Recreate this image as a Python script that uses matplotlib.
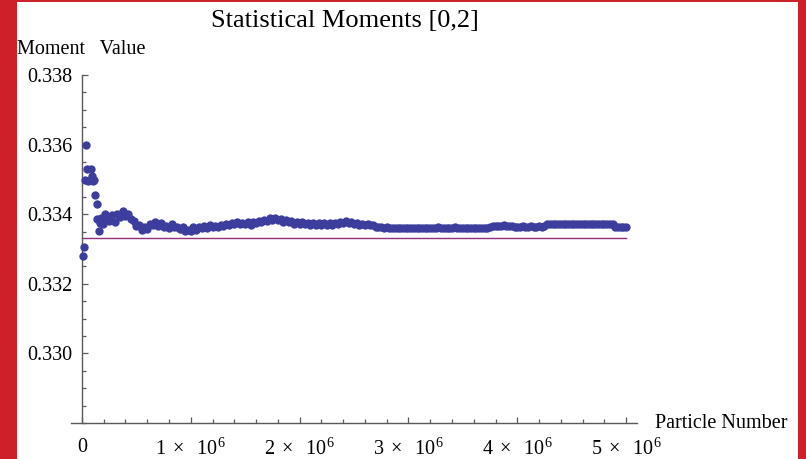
import numpy as np
import matplotlib
matplotlib.use("Agg")
import matplotlib.pyplot as plt
from matplotlib.patches import Rectangle
from matplotlib.ticker import FixedLocator, MultipleLocator

plt.rcParams['font.family'] = ['Liberation Serif', 'DejaVu Serif']
plt.rcParams['mathtext.fontset'] = 'custom'
plt.rcParams['mathtext.rm'] = 'Liberation Serif'
plt.rcParams['mathtext.it'] = 'Liberation Serif:italic'

# first samples, read one by one (particle number, moment)
early_n = [10000, 20000, 30000, 40000, 50000, 58000, 70000, 85000, 92000, 100000,
           110000, 120000, 135000, 142000, 155000, 165000, 180000, 195000, 210000, 230000]
early_moment = [0.33280, 0.33306, 0.33497, 0.33600, 0.33531, 0.33494, 0.33498, 0.33531, 0.33511, 0.33494,
                0.33497, 0.33456, 0.33430, 0.33386, 0.33352, 0.33376, 0.33389, 0.33372, 0.33401, 0.33386]

# later samples, every 25000 particles from 250000 on
late_start = 250000
late_step = 25000
late_moment = [
    0.33380, 0.33398, 0.33378, 0.33400, 0.33392, 0.33408, 0.33396, 0.33400, 0.33385, 0.33380,
    0.33366, 0.33368, 0.33354, 0.33364, 0.33358, 0.33372, 0.33370, 0.33378, 0.33366, 0.33374,
    0.33364, 0.33366, 0.33360, 0.33372, 0.33362, 0.33364, 0.33358, 0.33362, 0.33352, 0.33356,
    0.33352, 0.33362, 0.33355, 0.33364, 0.33360, 0.33365, 0.33360, 0.33368, 0.33362, 0.33367,
    0.33364, 0.33370, 0.33366, 0.33373, 0.33369, 0.33375, 0.33371, 0.33378, 0.33372, 0.33376,
    0.33373, 0.33378, 0.33370, 0.33378, 0.33375, 0.33380, 0.33377, 0.33384, 0.33381, 0.33388,
    0.33384, 0.33389, 0.33382, 0.33386, 0.33379, 0.33383, 0.33378, 0.33381, 0.33372, 0.33377,
    0.33373, 0.33379, 0.33371, 0.33375, 0.33369, 0.33374, 0.33370, 0.33375, 0.33370, 0.33374,
    0.33368, 0.33375, 0.33370, 0.33376, 0.33372, 0.33378, 0.33374, 0.33381, 0.33376, 0.33378,
    0.33371, 0.33374, 0.33370, 0.33373, 0.33369, 0.33372, 0.33368, 0.33370, 0.33362, 0.33363,
    0.33362, 0.33361, 0.33362, 0.33361, 0.33360, 0.33361, 0.33360, 0.33360, 0.33361, 0.33360,
    0.33360, 0.33359, 0.33360, 0.33359, 0.33359, 0.33360, 0.33359, 0.33360, 0.33359, 0.33359,
    0.33360, 0.33363, 0.33360, 0.33359, 0.33359, 0.33360, 0.33360, 0.33363, 0.33360, 0.33359,
    0.33359, 0.33360, 0.33359, 0.33360, 0.33359, 0.33360, 0.33360, 0.33361, 0.33360, 0.33360,
    0.33363, 0.33365, 0.33366, 0.33365, 0.33366, 0.33368, 0.33367, 0.33365, 0.33365, 0.33364,
    0.33364, 0.33364, 0.33365, 0.33364, 0.33364, 0.33365, 0.33364, 0.33364, 0.33365, 0.33364,
    0.33365, 0.33371, 0.33372, 0.33372, 0.33373, 0.33372, 0.33372, 0.33372, 0.33373, 0.33372,
    0.33372, 0.33372, 0.33373, 0.33372, 0.33372, 0.33372, 0.33373, 0.33372, 0.33372, 0.33372,
    0.33372, 0.33373, 0.33372, 0.33372, 0.33372, 0.33371, 0.33364, 0.33362, 0.33362, 0.33362,
    0.33362,
]
late_n = late_start + late_step * np.arange(len(late_moment))

exact_moment = 0.33333          # expected value, drawn as a line
exact_span = [0, 5000000]

x_ticks = [0, 1e6, 2e6, 3e6, 4e6, 5e6]
x_labels = ['0', r'$1\ \times\ \ 10^{6}$', r'$2\ \times\ \ 10^{6}$', r'$3\ \times\ \ 10^{6}$',
            r'$4\ \times\ \ 10^{6}$', r'$5\ \times\ \ 10^{6}$']
y_ticks = [0.330, 0.332, 0.334, 0.336, 0.338]
y_labels = ['0.330', '0.332', '0.334', '0.336', '0.338']

W, H = 806, 459
fig = plt.figure(figsize=(W / 100, H / 100), dpi=100)
fig.patch.set_facecolor('#CE2029')
fig.patches.append(Rectangle((17 / W, 0), (798 - 17) / W, 457 / H, transform=fig.transFigure,
                             facecolor='white', edgecolor='none', zorder=-5))

ax = fig.add_axes([71 / W, (H - 423) / H, 566 / W, 348 / H])
ax.set_facecolor('white')
ax.set_xlim(-0.1e6, 5.1e6)
ax.set_ylim(0.328, 0.338)

ax.plot(exact_span, [exact_moment, exact_moment], color='#93307A', lw=1.0, zorder=2)
dot = dict(ls='none', marker='o', ms=6.0, color='#3D3D9E', mec='none', zorder=3, clip_on=False)
ax.plot(early_n, early_moment, **dot)
ax.plot(late_n, late_moment, **dot)

for side in ['top', 'right']:
    ax.spines[side].set_visible(False)
ax.spines['left'].set_position(('data', 0))
for side in ['left', 'bottom']:
    ax.spines[side].set_color('#5a5a5a')
    ax.spines[side].set_linewidth(1.0)

ax.xaxis.set_major_locator(FixedLocator(x_ticks))
ax.xaxis.set_minor_locator(MultipleLocator(2e5))
ax.set_xticklabels(x_labels)
ax.yaxis.set_major_locator(FixedLocator(y_ticks))
ax.yaxis.set_minor_locator(MultipleLocator(0.0005))
ax.set_yticklabels(y_labels)

ax.tick_params(which='major', direction='in', length=4.5, width=0.9, color='#5a5a5a', labelsize=14.5)
ax.tick_params(which='minor', direction='in', length=2.6, width=0.9, color='#5a5a5a')
ax.tick_params(axis='x', pad=11)
ax.tick_params(axis='y', pad=7)

fig.text(17 / W, 1 - 54 / H, 'Moment   Value', fontsize=14.5, ha='left', va='baseline')
fig.text(655 / W, 1 - 428 / H, 'Particle Number', fontsize=14.5, ha='left', va='baseline')
fig.text(345 / W, 1 - 27 / H, 'Statistical Moments [0,2]', fontsize=19, ha='center', va='baseline')

fig.savefig('out.png', dpi=100, facecolor=fig.get_facecolor())
